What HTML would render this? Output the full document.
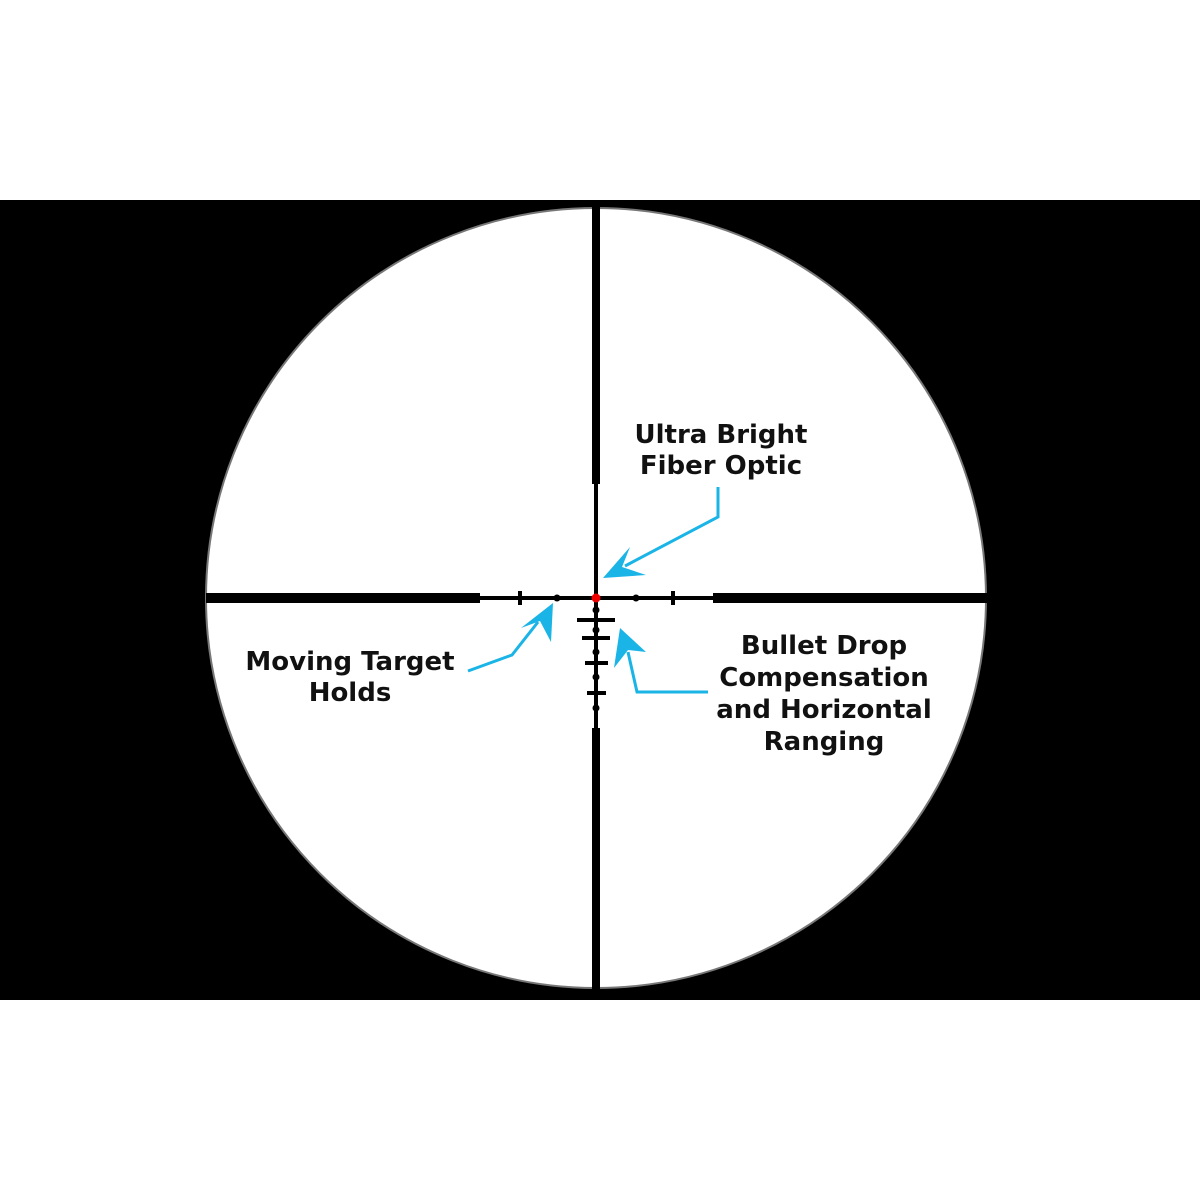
<!DOCTYPE html>
<html><head><meta charset="utf-8"><style>
html,body{margin:0;padding:0;background:#fff;}
svg{display:block}
text{font-family:"DejaVu Sans","Liberation Sans",sans-serif;font-size:26px;fill:#111;font-weight:bold}
</style></head><body>
<svg width="1200" height="1200" viewBox="0 0 1200 1200" xmlns="http://www.w3.org/2000/svg">
<rect x="0" y="0" width="1200" height="1200" fill="#fff"/>
<rect x="0" y="200" width="1200" height="800" fill="#000"/>
<circle cx="596" cy="598" r="390" fill="#fff" stroke="#777" stroke-width="2"/>
<rect x="206" y="593" width="274" height="10" fill="#000"/>
<rect x="713" y="593" width="274" height="10" fill="#000"/>
<rect x="480" y="596" width="233" height="4" fill="#000"/>
<rect x="592" y="207" width="8" height="277" fill="#000"/>
<rect x="592" y="728" width="8" height="262" fill="#000"/>
<rect x="594" y="484" width="4" height="244" fill="#000"/>
<rect x="518" y="591" width="4" height="14" fill="#000"/>
<rect x="671" y="591" width="4" height="14" fill="#000"/>
<circle cx="557" cy="598" r="3.5" fill="#000"/>
<circle cx="636" cy="598" r="3.5" fill="#000"/>
<rect x="577" y="618" width="38" height="4" fill="#000"/>
<rect x="582" y="636" width="28" height="4" fill="#000"/>
<rect x="585" y="661" width="23" height="4" fill="#000"/>
<rect x="587" y="691" width="19" height="4" fill="#000"/>
<circle cx="596" cy="610" r="3.5" fill="#000"/>
<circle cx="596" cy="630" r="3.5" fill="#000"/>
<circle cx="596" cy="652" r="3.5" fill="#000"/>
<circle cx="596" cy="677" r="3.5" fill="#000"/>
<circle cx="596" cy="708" r="3.5" fill="#000"/>
<circle cx="596" cy="598" r="4.5" fill="#e00"/>
<g fill="none" stroke="#1ab4e6" stroke-width="3">
<polyline points="718,487 718,517 625,566"/>
<polyline points="468,671 512,655 538,622"/>
<polyline points="708,692 637,692 628,652"/>
</g>
<g fill="#1ab4e6">
<polygon points="603,578 630,547 622,567 646,575"/>
<polygon points="553,603 551,642 540,621 521,628"/>
<polygon points="620,628 646,652 628,650 614,668"/>
</g>
<text x="721" y="443" text-anchor="middle">Ultra Bright</text>
<text x="721" y="474" text-anchor="middle">Fiber Optic</text>
<text x="350" y="670" text-anchor="middle">Moving Target</text>
<text x="350" y="701" text-anchor="middle">Holds</text>
<text x="824" y="654" text-anchor="middle">Bullet Drop</text>
<text x="824" y="686" text-anchor="middle">Compensation</text>
<text x="824" y="718" text-anchor="middle">and Horizontal</text>
<text x="824" y="750" text-anchor="middle">Ranging</text>
</svg>
</body></html>
